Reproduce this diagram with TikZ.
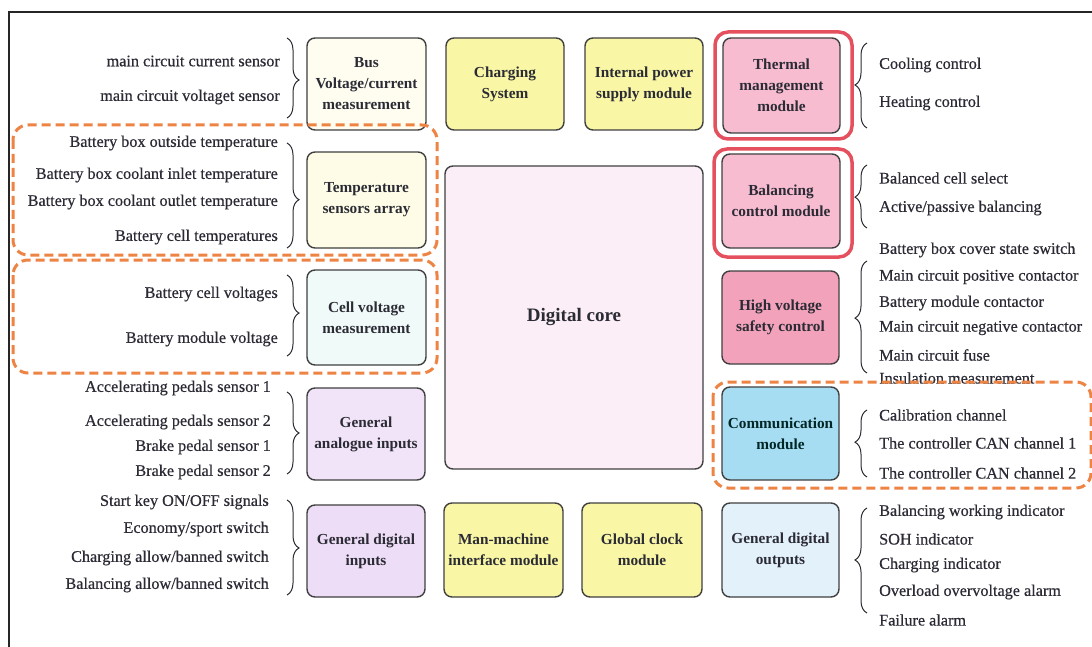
\documentclass[tikz,border=0pt]{standalone}
\usepackage{fontspec}
\setmainfont{Liberation Serif}
\newfontfamily\lstfont[FakeBold=0.5]{Liberation Serif}
\usetikzlibrary{decorations.pathreplacing}
\definecolor{txt}{HTML}{2B2B35}
\definecolor{bord}{HTML}{404040}
\definecolor{cream}{HTML}{FFFDF0}
\definecolor{yel}{HTML}{F9F7A5}
\definecolor{pinkA}{HTML}{F7BCD0}
\definecolor{pinkB}{HTML}{F2A2BA}
\definecolor{coreC}{HTML}{FCEEF6}
\definecolor{tempC}{HTML}{FEFCE6}
\definecolor{cellC}{HTML}{F0FAF8}
\definecolor{lavA}{HTML}{F1E4F8}
\definecolor{lavB}{HTML}{EEDDF7}
\definecolor{blueA}{HTML}{A7DDF2}
\definecolor{blueB}{HTML}{E3F1FB}
\definecolor{orangeD}{HTML}{EE8444}
\definecolor{redR}{HTML}{E5505F}
\tikzset{
  box/.style={draw=bord, line width=1.4pt, rounded corners=8pt, align=center,
    text=txt, font=\bfseries\fontsize{15.3}{21}\selectfont, inner sep=1pt},
  lbl/.style={text=txt, font=\lstfont\fontsize{16.2}{18}\selectfont, inner sep=0pt},
  lleft/.style={lbl, anchor=east},
  lright/.style={lbl, anchor=west},
  brR/.style={draw=txt, line width=1pt, decorate, decoration={brace, amplitude=12pt, aspect=#1}},
  grp/.style={draw=orangeD, line width=3pt, dash pattern=on 9pt off 5pt, rounded corners=15pt},
  redbox/.style={draw=redR, line width=3.5pt, rounded corners=13pt},
}
\begin{document}
\begin{tikzpicture}[x=1pt,y=-1pt]
\useasboundingbox (0,0) rectangle (1092,647);
\fill[white] (0,0) rectangle (1092,647);
\draw[line width=1.3pt, black!85] (9,660) -- (9,12) -- (1100,12);

% red highlight frames
\draw[redbox] (715,32) rectangle (852,139);
\draw[redbox] (714,149) rectangle (852,257);

% boxes
\node[box, fill=cream, minimum width=119pt, minimum height=92pt] (bus) at (366.5,84) {Bus\\Voltage/current\\measurement};
\node[box, fill=yel, minimum width=118pt, minimum height=92pt] (charge) at (505,84) {Charging\\System};
\node[box, fill=yel, minimum width=118pt, minimum height=92pt] (intpow) at (644,84) {Internal power\\supply module};
\node[box, fill=pinkA, minimum width=117pt, minimum height=95pt] (thermal) at (781.5,85.5) {Thermal\\management\\module};
\node[box, fill=pinkA, minimum width=118pt, minimum height=94pt] (balance) at (781,201) {Balancing\\control module};
\node[box, fill=pinkB, minimum width=117pt, minimum height=93pt] (hv) at (780.5,317.5) {High voltage\\safety control};
\node[box, fill=blueA, minimum width=117pt, minimum height=93pt, text=black!70!teal] (comm) at (780.5,433.5) {Communication\\module};
\node[box, fill=blueB, minimum width=117pt, minimum height=94pt] (gdo) at (780.5,550) {General digital\\outputs};
\node[box, fill=yel, minimum width=119pt, minimum height=94pt] (mmi) at (503.5,550) {Man-machine\\interface module};
\node[box, fill=yel, minimum width=120pt, minimum height=94pt] (clock) at (642,550) {Global clock\\module};
\node[box, fill=coreC, minimum width=258pt, minimum height=303pt, font=\bfseries\fontsize{19}{23}\selectfont] (core) at (574,317.5) {Digital core};
\node[box, fill=tempC, minimum width=119pt, minimum height=96pt] (temp) at (366.5,200) {Temperature\\sensors array};
\node[box, fill=cellC, minimum width=119pt, minimum height=95pt] (cellv) at (366.5,317.5) {Cell voltage\\measurement};
\node[box, fill=lavA, minimum width=118pt, minimum height=92pt] (gai) at (366,434) {General\\analogue inputs};
\node[box, fill=lavB, minimum width=118pt, minimum height=92pt] (gdi) at (366,551) {General digital\\inputs};

% orange dashed groups
\draw[grp] (13,125) rectangle (437,255);
\draw[grp] (13,260) rectangle (437,373);

% left labels
\node[lleft] (b1) at (280,61) {main circuit current sensor};
\node[lleft] (b2) at (280,97) {main circuit voltaget sensor};
\node[lleft] (t1) at (278,143) {Battery box outside temperature};
\node[lleft] (t2) at (278,175) {Battery box coolant inlet temperature};
\node[lleft] (t3) at (278,202) {Battery box coolant outlet temperature};
\node[lleft] (t4) at (278,237) {Battery cell temperatures};
\node[lleft] (c1) at (278,294) {Battery cell voltages};
\node[lleft] (c2) at (278,339) {Battery module voltage};
\node[lleft] (a1) at (271,388) {Accelerating pedals sensor 1};
\node[lleft] (a2) at (271,422) {Accelerating pedals sensor 2};
\node[lleft] (a3) at (271,447) {Brake pedal sensor 1};
\node[lleft] (a4) at (271,472) {Brake pedal sensor 2};
\node[lleft] (d1) at (269,502) {Start key ON/OFF signals};
\node[lleft] (d2) at (269,529) {Economy/sport switch};
\node[lleft] (d3) at (269,558) {Charging allow/banned switch};
\node[lleft] (d4) at (269,585) {Balancing allow/banned switch};

% right labels
\node[lright] (h1) at (879,65) {Cooling control};
\node[lright] (h2) at (879,103) {Heating control};
\node[lright] (s1) at (879,178) {Balanced cell select};
\node[lright] (s2) at (879,208) {Active/passive balancing};
\node[lright] (v1) at (879,250) {Battery box cover state switch};
\node[lright] (v2) at (879,277) {Main circuit positive contactor};
\node[lright] (v3) at (879,303) {Battery module contactor};
\node[lright] (v4) at (879,328) {Main circuit negative contactor};
\node[lright] (v5) at (879,355) {Main circuit fuse};
\node[lright] (v6) at (879,378) {Insulation measurement};
\node[lright] (m1) at (879,415) {Calibration channel};
\node[lright] (m2) at (879,443) {The controller CAN channel 1};
\node[lright] (m3) at (879,473) {The controller CAN channel 2};
\node[lright] (o1) at (879,512) {Balancing working indicator};
\node[lright] (o2) at (879,539) {SOH indicator};
\node[lright] (o3) at (879,565) {Charging indicator};
\node[lright] (o4) at (879,592) {Overload overvoltage alarm};
\node[lright] (o5) at (879,620) {Failure alarm};

\draw[grp] (713,382) rectangle (1091,488);

% braces (left side, pointing right)
\coordinate (bA) at (287,38);  \coordinate (bB) at (287,118);
\coordinate (tA) at (287,143); \coordinate (tB) at (287,248);
\coordinate (cA) at (287,275); \coordinate (cB) at (287,356);
\coordinate (aA) at (287,392); \coordinate (aB) at (287,474);
\coordinate (dA) at (287,500); \coordinate (dB) at (287,595);
\draw[brR=0.525] (bA) -- (bB);
\draw[brR=0.54] (tA) -- (tB);
\draw[brR=0.47] (cA) -- (cB);
\draw[brR=0.5] (aA) -- (aB);
\draw[brR=0.505] (dA) -- (dB);

% braces (right side, pointing left)
\coordinate (hA) at (867,128); \coordinate (hB) at (867,43);
\coordinate (sA) at (867,228); \coordinate (sB) at (867,165);
\coordinate (vA) at (867,373); \coordinate (vB) at (867,261);
\coordinate (mA) at (867,477); \coordinate (mB) at (867,410);
\coordinate (oA) at (867,613); \coordinate (oB) at (867,508);
\draw[brR=0.506] (hA) -- (hB);
\draw[brR=0.49] (sA) -- (sB);
\draw[brR=0.49] (vA) -- (vB);
\draw[brR=0.52] (mA) -- (mB);
\draw[brR=0.505] (oA) -- (oB);
\end{tikzpicture}
\end{document}
